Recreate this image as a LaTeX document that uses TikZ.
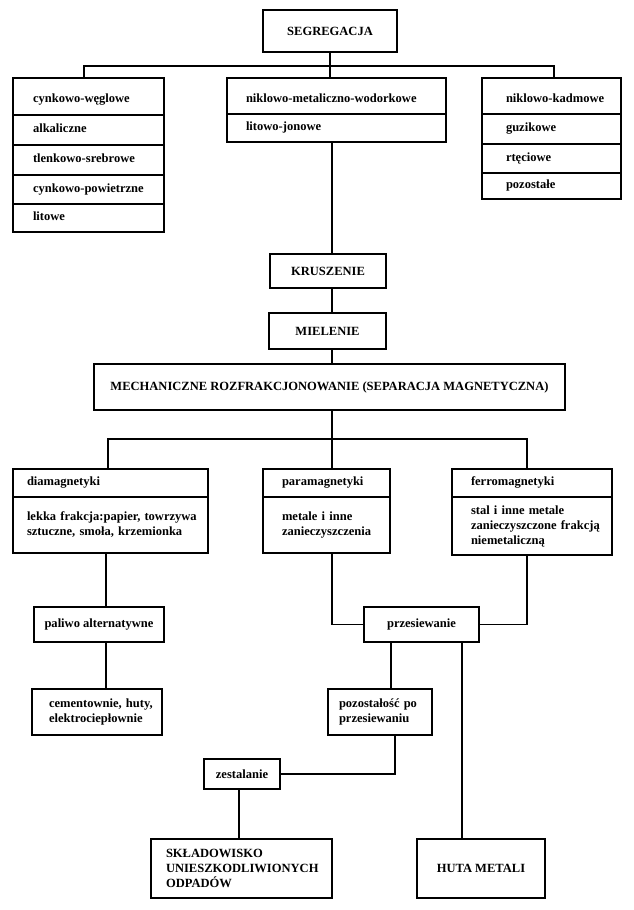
\documentclass[tikz,border=0pt]{standalone}
\usepackage{fontspec}
\setmainfont{Liberation Serif}
\newcommand{\ind}[1]{\hspace*{#1}}
\begin{document}
\begin{tikzpicture}[x=0.75pt,y=-0.75pt,
  box/.style={draw, line width=0.8pt, inner sep=0pt, outer sep=0pt,
    font=\fontsize{9.4}{11.25}\selectfont\bfseries},
  cbox/.style={box, align=center},
  lbox/.style={box, align=left},
  sl/.style={text height=6.5pt, text depth=2.5pt},
  slow/.style={text height=9pt, text depth=0pt},
  conn/.style={line width=0.8pt}]
\fill[white] (0,0) rectangle (634,910);
\useasboundingbox (0,0) rectangle (634,910);

% top
\node[cbox, minimum width=100.5pt, minimum height=31.5pt] (seg) at (330,31) {SEGREGACJA};

% left stack
\node[lbox, slow, minimum width=113.25pt, text width=113.25pt, minimum height=27.75pt] (a1) at (88.5,96.5) {\ind{15pt}cynkowo-węglowe};
\node[lbox, sl, minimum width=113.25pt, text width=113.25pt, minimum height=22.5pt] (a2) at (88.5,130) {\ind{15pt}alkaliczne};
\node[lbox, sl, minimum width=113.25pt, text width=113.25pt, minimum height=22.5pt] (a3) at (88.5,160) {\ind{15pt}tlenkowo-srebrowe};
\node[lbox, sl, minimum width=113.25pt, text width=113.25pt, minimum height=21.75pt] (a4) at (88.5,189.5) {\ind{15pt}cynkowo-powietrzne};
\node[lbox, sl, minimum width=113.25pt, text width=113.25pt, minimum height=21pt] (a5) at (88.5,218) {\ind{15pt}litowe};

% middle stack
\node[lbox, slow, minimum width=164.25pt, text width=164.25pt, minimum height=27pt] (b1) at (336.5,96) {\ind{14.25pt}niklowo-metaliczno-wodorkowe};
\node[lbox, sl, minimum width=164.25pt, text width=164.25pt, minimum height=21pt] (b2) at (336.5,128) {\ind{14.25pt}litowo-jonowe};

% right stack
\node[lbox, slow, minimum width=104.25pt, text width=104.25pt, minimum height=27pt] (c1) at (551.5,96) {\ind{18pt}niklowo-kadmowe};
\node[lbox, sl, minimum width=104.25pt, text width=104.25pt, minimum height=22.5pt] (c2) at (551.5,129) {\ind{18pt}guzikowe};
\node[lbox, sl, minimum width=104.25pt, text width=104.25pt, minimum height=21.75pt] (c3) at (551.5,158.5) {\ind{18pt}rtęciowe};
\node[lbox, sl, minimum width=104.25pt, text width=104.25pt, minimum height=19.5pt] (c4) at (551.5,186) {\ind{18pt}pozostałe};

% process chain
\node[cbox, minimum width=87pt, minimum height=25.5pt] (krus) at (328,271) {KRUSZENIE};
\node[cbox, minimum width=87.75pt, minimum height=27pt] (miel) at (327.5,331) {MIELENIE};
\node[cbox, minimum width=353.25pt, minimum height=34.5pt] (mech) at (329.5,387) {MECHANICZNE ROZFRAKCJONOWANIE (SEPARACJA MAGNETYCZNA)};

% fractions
\node[lbox, sl, minimum width=146.25pt, text width=146.25pt, minimum height=21pt] (d1) at (110.5,483) {\ind{10.5pt}diamagnetyki};
\node[lbox, minimum width=146.25pt, text width=146.25pt, minimum height=42pt] (d2) at (110.5,525) {\ind{10.5pt}lekka frakcja:papier, towrzywa\\\ind{10.5pt}sztuczne, smoła, krzemionka};
\node[lbox, sl, minimum width=95.25pt, text width=95.25pt, minimum height=21pt] (p1) at (326.5,483) {\ind{14.25pt}paramagnetyki};
\node[lbox, minimum width=95.25pt, text width=95.25pt, minimum height=42pt] (p2) at (326.5,525) {\ind{14.25pt}metale i inne\\\ind{14.25pt}zanieczyszczenia};
\node[lbox, sl, minimum width=120pt, text width=120pt, minimum height=21pt] (f1) at (532,483) {\ind{14.25pt}ferromagnetyki};
\node[lbox, minimum width=120pt, text width=120pt, minimum height=43.5pt] (f2) at (532,526) {\ind{14.25pt}stal i inne metale\\\ind{14.25pt}zanieczyszczone frakcją\\\ind{14.25pt}niemetaliczną};

% lower part
\node[cbox, minimum width=97.5pt, minimum height=26.25pt] (paliwo) at (99,624.5) {paliwo alternatywne};
\node[lbox, minimum width=97.5pt, text width=97.5pt, minimum height=34.5pt] (cem) at (97,712) {\ind{12.75pt}cementownie, huty,\\\ind{12.75pt}elektrociepłownie};
\node[cbox, minimum width=86.25pt, minimum height=26.25pt] (przes) at (421.5,624.5) {przesiewanie};
\node[lbox, minimum width=78pt, text width=78pt, minimum height=34.5pt] (poz) at (380,712) {\ind{8.25pt}pozostałość po\\\ind{8.25pt}przesiewaniu};
\node[cbox, minimum width=57pt, minimum height=22.5pt] (zest) at (242,774) {zestalanie};
\node[lbox, minimum width=135.75pt, text width=135.75pt, minimum height=44.25pt] (skl) at (241.5,868.5) {\ind{11.25pt}SKŁADOWISKO\\\ind{11.25pt}UNIESZKODLIWIONYCH\\\ind{11.25pt}ODPADÓW};
\node[cbox, minimum width=96pt, minimum height=44.25pt] (huta) at (481,868.5) {HUTA METALI};

% helper coordinates
\coordinate (sp) at (332,0);
\coordinate (tl) at (84,66);
\coordinate (tr) at (554,66);
\coordinate (ml) at (108,439);
\coordinate (mr) at (527,439);
\coordinate (dl) at (106,0);
\coordinate (fr) at (527,0);
\coordinate (q1) at (391,0);
\coordinate (q2) at (462,0);
\coordinate (q3) at (395,0);
\coordinate (q4) at (239,0);

% connectors
\draw[conn] (seg.south) -- (seg.south |- b1.north);
\draw[conn] (a1.north -| tl) -- (tl) -- (tr) -- (c1.north -| tr);
\draw[conn] (b2.south -| sp) -- (krus.north -| sp);
\draw[conn] (krus.south -| sp) -- (miel.north -| sp);
\draw[conn] (miel.south -| sp) -- (mech.north -| sp);
\draw[conn] (mech.south -| sp) -- (ml -| sp);
\draw[conn] (d1.north -| ml) -- (ml) -- (mr) -- (f1.north -| mr);
\draw[conn] (ml -| sp) -- (p1.north -| sp);
\draw[conn] (d2.south -| dl) -- (paliwo.north -| dl);
\draw[conn] (paliwo.south -| dl) -- (cem.north -| dl);
\draw[conn] (p2.south -| sp) -- (przes.west -| sp) -- (przes.west);
\draw[conn] (f2.south -| fr) -- (przes.east -| fr) -- (przes.east);
\draw[conn] (przes.south -| q1) -- (poz.north -| q1);
\draw[conn] (przes.south -| q2) -- (huta.north -| q2);
\draw[conn] (poz.south -| q3) -- (zest.east -| q3) -- (zest.east);
\draw[conn] (zest.south -| q4) -- (skl.north -| q4);
\end{tikzpicture}
\end{document}
